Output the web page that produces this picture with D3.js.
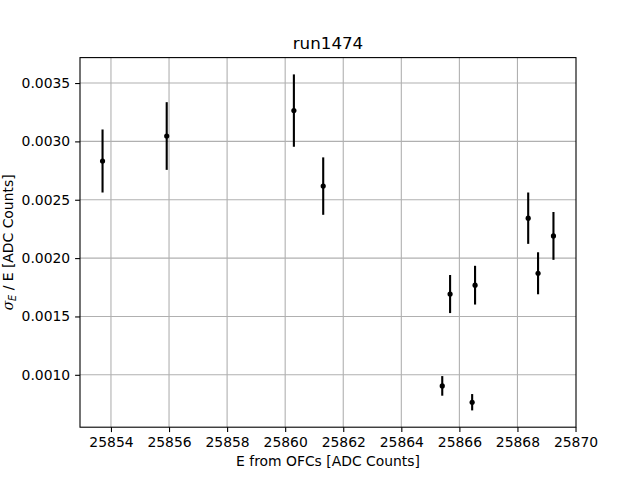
<!DOCTYPE html>
<html lang="en">
<head>
<meta charset="utf-8">
<script src="https://d3js.org/d3.v7.min.js"></script>
<style type="text/css">
body {
	margin: 0;
	background: white;
}
text {
	font-family: "DejaVu Sans", sans-serif;
	fill: black;
}
</style>
</head>
<body>
<script type="text/javascript">

// energy from OFCs, resolution and its error
const energy = [25853.71, 25855.92, 25860.30, 25861.31, 25865.41, 25865.68, 25866.44, 25866.54, 25868.37, 25868.71, 25869.24];
const resolution = [0.002832, 0.003046, 0.003264, 0.002617, 0.000905, 0.001692, 0.000765, 0.001768, 0.002342, 0.001870, 0.002190];
const resError = [0.000270, 0.000290, 0.000310, 0.000246, 0.000084, 0.000163, 0.000070, 0.000166, 0.000220, 0.000180, 0.000205];

const xTicks = [25854, 25856, 25858, 25860, 25862, 25864, 25866, 25868, 25870];
const yTicks = [0.0010, 0.0015, 0.0020, 0.0025, 0.0030, 0.0035];

const width = 640;
const height = 480;
const margin = {left: 80, right: 64, top: 57.6, bottom: 52.8};

// matplotlib-like 5% padding around the data
const xMin = d3.min(energy), xMax = d3.max(energy);
const xPad = (xMax - xMin) * 0.05;
const yMin = d3.min(resolution.map((d, i) => d - resError[i]));
const yMax = d3.max(resolution.map((d, i) => d + resError[i]));
const yPad = (yMax - yMin) * 0.05;

const x = d3.scaleLinear()
	.domain([xMin - xPad, xMax + xPad])
	.range([margin.left, width - margin.right]);

const y = d3.scaleLinear()
	.domain([yMin - yPad, yMax + yPad])
	.range([height - margin.bottom, margin.top]);

const svg = d3.select("body")
	.append("svg")
	.attr("width", width)
	.attr("height", height);

// grid lines
svg.append("g")
	.selectAll("line")
	.data(xTicks.filter(t => x(t) < width - margin.right - 1))
	.enter()
	.append("line")
	.attr("x1", d => x(d)).attr("x2", d => x(d))
	.attr("y1", margin.top).attr("y2", height - margin.bottom)
	.style("stroke", "#b0b0b0")
	.style("stroke-width", 1.1);

svg.append("g")
	.selectAll("line")
	.data(yTicks)
	.enter()
	.append("line")
	.attr("y1", d => y(d)).attr("y2", d => y(d))
	.attr("x1", margin.left).attr("x2", width - margin.right)
	.style("stroke", "#b0b0b0")
	.style("stroke-width", 1.1);

// axes
const xAxis = svg.append("g")
	.attr("transform", `translate(0,${height - margin.bottom})`)
	.call(d3.axisBottom(x).tickValues(xTicks).tickFormat(d3.format("d")).tickSize(4.9).tickPadding(4.9));

const yAxis = svg.append("g")
	.attr("transform", `translate(${margin.left},0)`)
	.call(d3.axisLeft(y).tickValues(yTicks).tickFormat(d3.format(".4f")).tickSize(4.9).tickPadding(4.9));

[xAxis, yAxis].forEach(a => {
	a.select(".domain").remove();
	a.selectAll(".tick line").style("stroke", "black").style("stroke-width", 1.1);
	a.selectAll(".tick text")
		.style("font-family", "DejaVu Sans")
		.style("font-size", "13.9px")
		.style("fill", "black");
});

// frame
svg.append("rect")
	.attr("x", margin.left)
	.attr("y", margin.top)
	.attr("width", width - margin.left - margin.right)
	.attr("height", height - margin.top - margin.bottom)
	.style("fill", "none")
	.style("stroke", "black")
	.style("stroke-width", 1.1);

// error bars
svg.append("g")
	.selectAll("line")
	.data(energy)
	.enter()
	.append("line")
	.attr("x1", d => x(d)).attr("x2", d => x(d))
	.attr("y1", (d, i) => y(resolution[i] - resError[i]))
	.attr("y2", (d, i) => y(resolution[i] + resError[i]))
	.style("stroke", "black")
	.style("stroke-width", 2.1);

// points
svg.append("g")
	.selectAll("circle")
	.data(energy)
	.enter()
	.append("circle")
	.attr("cx", d => x(d))
	.attr("cy", (d, i) => y(resolution[i]))
	.attr("r", 2.6)
	.style("fill", "black");

// title and labels
svg.append("text")
	.attr("x", (margin.left + width - margin.right) / 2)
	.attr("y", 49)
	.attr("text-anchor", "middle")
	.style("font-size", "16.7px")
	.text("run1474");

svg.append("text")
	.attr("x", (margin.left + width - margin.right) / 2)
	.attr("y", 466)
	.attr("text-anchor", "middle")
	.style("font-size", "13.9px")
	.text("E from OFCs [ADC Counts]");

const yl = svg.append("text")
	.attr("transform", `translate(13,${(margin.top + height - margin.bottom) / 2}) rotate(-90)`)
	.attr("text-anchor", "middle")
	.style("font-size", "13.9px");
yl.append("tspan").style("font-family", "DejaVu Serif").style("font-style", "italic").text("σ");
yl.append("tspan").attr("dy", 3).style("font-size", "9.7px").style("font-style", "italic").text("E");
yl.append("tspan").attr("dy", -3).text(" / E [ADC Counts]");

</script>
</body>
</html>
